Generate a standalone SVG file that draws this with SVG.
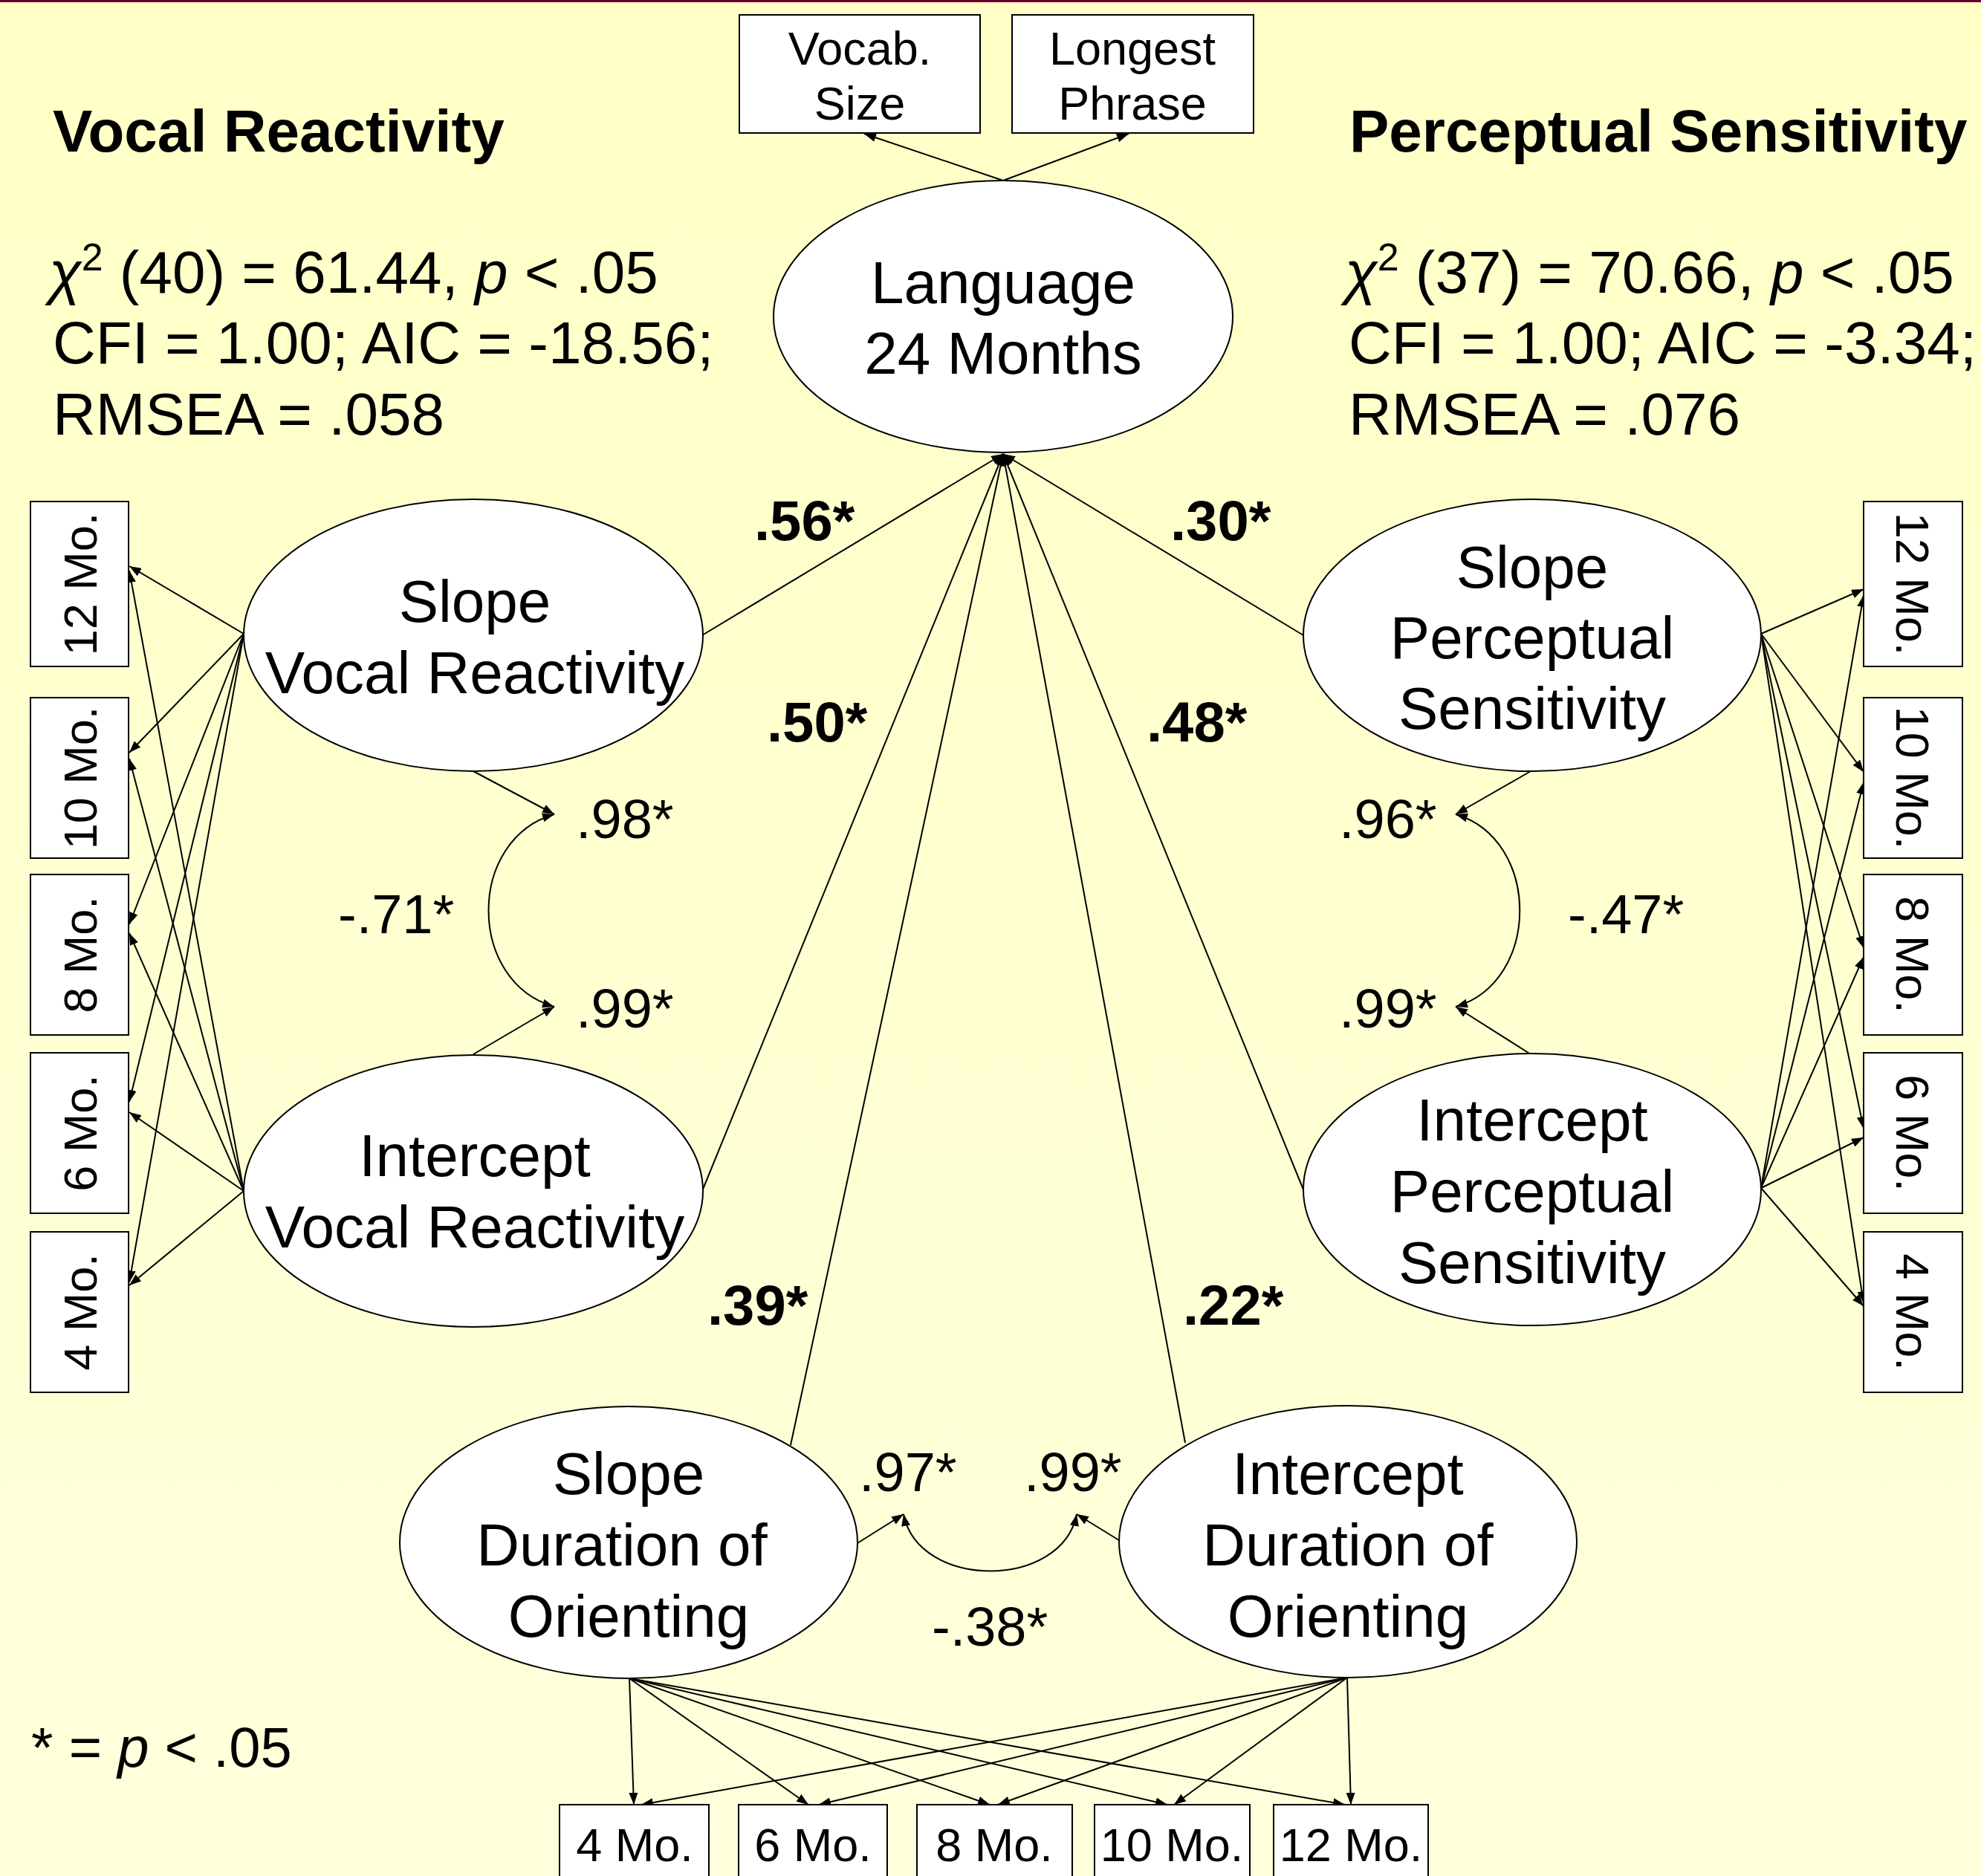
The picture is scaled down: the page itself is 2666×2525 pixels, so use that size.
<svg xmlns="http://www.w3.org/2000/svg" width="2666" height="2525" viewBox="0 0 2666 2525">
<defs>
<linearGradient id="bg" x1="0" y1="0" x2="0" y2="1">
<stop offset="0" stop-color="#FFFFC6"/>
<stop offset="1" stop-color="#FFFFDC"/>
</linearGradient>
<marker id="ah" markerWidth="16" markerHeight="12" refX="16" refY="6" orient="auto-start-reverse" markerUnits="userSpaceOnUse">
<path d="M0,0 L16,6 L0,12 z" fill="#000"/>
</marker>
<style>
text{font-family:"Liberation Sans",Arial,Helvetica,sans-serif;fill:#000}
.ell{fill:#fff;stroke:#000;stroke-width:2}
.box{fill:#fff;stroke:#000;stroke-width:2}
.lbl{font-size:80px;text-anchor:middle}
.big{font-size:80px}
.title{font-size:80px;font-weight:bold}
.coef{font-size:74px}
.foot{font-size:76px}
.bcoef{font-size:76px;font-weight:bold}
.obs{font-size:63px;text-anchor:middle}
.conn line,.conn path{stroke:#000;stroke-width:2;fill:none}
.arr{marker-end:url(#ah)}
.dbl{marker-start:url(#ah);marker-end:url(#ah)}
</style>
</defs>
<rect x="0" y="0" width="2666" height="2525" fill="url(#bg)"/>
<rect x="0" y="0" width="2666" height="3" fill="#660033"/>

<g id="connectors" class="conn">
<line class="arr" x1="1350" y1="243" x2="1163" y2="180"/>
<line class="arr" x1="1350" y1="243" x2="1519" y2="180"/>
<line class="arr" x1="945" y1="855" x2="1350" y2="611"/>
<line class="arr" x1="945" y1="1603" x2="1350" y2="611"/>
<line class="arr" x1="1064" y1="1945" x2="1350" y2="611"/>
<line class="arr" x1="1595" y1="1942" x2="1350" y2="611"/>
<line class="arr" x1="1754" y1="1601" x2="1350" y2="611"/>
<line class="arr" x1="1754" y1="855" x2="1350" y2="611"/>
<line class="arr" x1="328" y1="853" x2="174" y2="762"/>
<line class="arr" x1="328" y1="853" x2="174" y2="1013"/>
<line class="arr" x1="328" y1="853" x2="174" y2="1244"/>
<line class="arr" x1="328" y1="853" x2="174" y2="1483"/>
<line class="arr" x1="328" y1="853" x2="174" y2="1726"/>
<line class="arr" x1="328" y1="1603" x2="174" y2="768"/>
<line class="arr" x1="328" y1="1603" x2="174" y2="1021"/>
<line class="arr" x1="328" y1="1603" x2="174" y2="1256"/>
<line class="arr" x1="328" y1="1603" x2="174" y2="1497"/>
<line class="arr" x1="328" y1="1603" x2="174" y2="1730"/>
<line class="arr" x1="2370" y1="853" x2="2508" y2="793"/>
<line class="arr" x1="2370" y1="853" x2="2508" y2="1039"/>
<line class="arr" x1="2370" y1="853" x2="2508" y2="1276"/>
<line class="arr" x1="2370" y1="853" x2="2508" y2="1519"/>
<line class="arr" x1="2370" y1="853" x2="2508" y2="1754"/>
<line class="arr" x1="2370" y1="1599" x2="2508" y2="801"/>
<line class="arr" x1="2370" y1="1599" x2="2508" y2="1053"/>
<line class="arr" x1="2370" y1="1599" x2="2508" y2="1288"/>
<line class="arr" x1="2370" y1="1599" x2="2508" y2="1531"/>
<line class="arr" x1="2370" y1="1599" x2="2508" y2="1758"/>
<line class="arr" x1="847" y1="2259" x2="853" y2="2429"/>
<line class="arr" x1="847" y1="2259" x2="1088" y2="2429"/>
<line class="arr" x1="847" y1="2259" x2="1332" y2="2429"/>
<line class="arr" x1="847" y1="2259" x2="1571" y2="2429"/>
<line class="arr" x1="847" y1="2259" x2="1810" y2="2429"/>
<line class="arr" x1="1813" y1="2258" x2="863" y2="2429"/>
<line class="arr" x1="1813" y1="2258" x2="1102" y2="2429"/>
<line class="arr" x1="1813" y1="2258" x2="1343" y2="2429"/>
<line class="arr" x1="1813" y1="2258" x2="1580" y2="2429"/>
<line class="arr" x1="1813" y1="2258" x2="1818" y2="2429"/>
<line class="arr" x1="637" y1="1038" x2="746" y2="1096"/>
<line class="arr" x1="637" y1="1419" x2="746" y2="1355"/>
<path class="dbl" d="M746,1096 C628,1130 628,1321 746,1355"/>
<line class="arr" x1="2060" y1="1038" x2="1959" y2="1096"/>
<line class="arr" x1="2060" y1="1419" x2="1959" y2="1355"/>
<path class="dbl" d="M1959,1096 C2074,1130 2074,1321 1959,1355"/>
<line class="arr" x1="1154" y1="2077" x2="1216" y2="2038"/>
<line class="arr" x1="1509" y1="2075" x2="1449" y2="2038"/>
<path class="dbl" d="M1216,2038 C1236,2140 1429,2140 1449,2038"/>
</g>

<g id="vocab"><rect class="box" x="995" y="20" width="324" height="159"/><text class="obs" x="1157" y="87">Vocab.</text><text class="obs" x="1157" y="161">Size</text></g>
<g id="phrase"><rect class="box" x="1362" y="20" width="325" height="159"/><text class="obs" x="1524" y="87">Longest</text><text class="obs" x="1524" y="161">Phrase</text></g>

<g id="language"><ellipse class="ell" cx="1350" cy="426" rx="309" ry="183"/><text class="lbl" x="1350" y="408">Language</text><text class="lbl" x="1350" y="503">24 Months</text></g>
<g id="slope-vr"><ellipse class="ell" cx="637" cy="855" rx="309" ry="183"/><text class="lbl" x="639" y="837">Slope</text><text class="lbl" x="639" y="933">Vocal Reactivity</text></g>
<g id="intercept-vr"><ellipse class="ell" cx="637" cy="1603" rx="309" ry="183"/><text class="lbl" x="639" y="1583">Intercept</text><text class="lbl" x="639" y="1679">Vocal Reactivity</text></g>
<g id="slope-ps"><ellipse class="ell" cx="2062" cy="855" rx="308" ry="183"/><text class="lbl" x="2062" y="791">Slope</text><text class="lbl" x="2062" y="886">Perceptual</text><text class="lbl" x="2062" y="981">Sensitivity</text></g>
<g id="intercept-ps"><ellipse class="ell" cx="2062" cy="1601" rx="308" ry="183"/><text class="lbl" x="2062" y="1535">Intercept</text><text class="lbl" x="2062" y="1631">Perceptual</text><text class="lbl" x="2062" y="1727">Sensitivity</text></g>
<g id="slope-do"><ellipse class="ell" cx="846" cy="2076" rx="308" ry="183"/><text class="lbl" x="846" y="2011">Slope</text><text class="lbl" x="837" y="2107">Duration of</text><text class="lbl" x="846" y="2203">Orienting</text></g>
<g id="intercept-do"><ellipse class="ell" cx="1814" cy="2075" rx="308" ry="183"/><text class="lbl" x="1814" y="2011">Intercept</text><text class="lbl" x="1814" y="2107">Duration of</text><text class="lbl" x="1814" y="2203">Orienting</text></g>

<g id="vr-12"><rect class="box" x="41" y="675" width="132" height="222"/><text class="obs" transform="translate(130,786) rotate(-90)">12 Mo.</text></g>
<g id="vr-10"><rect class="box" x="41" y="939" width="132" height="216"/><text class="obs" transform="translate(130,1047) rotate(-90)">10 Mo.</text></g>
<g id="vr-8"><rect class="box" x="41" y="1177" width="132" height="216"/><text class="obs" transform="translate(130,1285) rotate(-90)">8 Mo.</text></g>
<g id="vr-6"><rect class="box" x="41" y="1417" width="132" height="216"/><text class="obs" transform="translate(130,1525) rotate(-90)">6 Mo.</text></g>
<g id="vr-4"><rect class="box" x="41" y="1658" width="132" height="216"/><text class="obs" transform="translate(130,1766) rotate(-90)">4 Mo.</text></g>

<g id="ps-12"><rect class="box" x="2508" y="675" width="133" height="222"/><text class="obs" transform="translate(2552,786) rotate(90)">12 Mo.</text></g>
<g id="ps-10"><rect class="box" x="2508" y="939" width="133" height="216"/><text class="obs" transform="translate(2552,1047) rotate(90)">10 Mo.</text></g>
<g id="ps-8"><rect class="box" x="2508" y="1177" width="133" height="216"/><text class="obs" transform="translate(2552,1285) rotate(90)">8 Mo.</text></g>
<g id="ps-6"><rect class="box" x="2508" y="1417" width="133" height="216"/><text class="obs" transform="translate(2552,1525) rotate(90)">6 Mo.</text></g>
<g id="ps-4"><rect class="box" x="2508" y="1658" width="133" height="216"/><text class="obs" transform="translate(2552,1766) rotate(90)">4 Mo.</text></g>

<g id="do-4"><rect class="box" x="753" y="2429" width="201" height="130"/><text class="obs" x="854" y="2505">4 Mo.</text></g>
<g id="do-6"><rect class="box" x="994" y="2429" width="200" height="130"/><text class="obs" x="1094" y="2505">6 Mo.</text></g>
<g id="do-8"><rect class="box" x="1234" y="2429" width="209" height="130"/><text class="obs" x="1338" y="2505">8 Mo.</text></g>
<g id="do-10"><rect class="box" x="1473" y="2429" width="209" height="130"/><text class="obs" x="1577" y="2505">10 Mo.</text></g>
<g id="do-12"><rect class="box" x="1714" y="2429" width="208" height="130"/><text class="obs" x="1818" y="2505">12 Mo.</text></g>

<g id="labels">
<text class="title" x="71" y="204">Vocal Reactivity</text>
<text class="title" x="1816" y="204">Perceptual Sensitivity</text>
<text class="big" x="66" y="394"><tspan font-style="italic">χ</tspan><tspan font-size="52" dy="-30">2</tspan><tspan dy="30"> (40) = 61.44, </tspan><tspan font-style="italic">p</tspan> &lt; .05</text>
<text class="big" x="71" y="489">CFI = 1.00; AIC = -18.56;</text>
<text class="big" x="71" y="585">RMSEA = .058</text>
<text class="big" x="1810" y="394"><tspan font-style="italic">χ</tspan><tspan font-size="52" dy="-30">2</tspan><tspan dy="30"> (37) = 70.66, </tspan><tspan font-style="italic">p</tspan> &lt; .05</text>
<text class="big" x="1815" y="489">CFI = 1.00; AIC = -3.34;</text>
<text class="big" x="1815" y="585">RMSEA = .076</text>
<text class="bcoef" x="1015" y="727">.56*</text>
<text class="bcoef" x="1575" y="727">.30*</text>
<text class="bcoef" x="1032" y="998">.50*</text>
<text class="bcoef" x="1543" y="998">.48*</text>
<text class="bcoef" x="952" y="1783">.39*</text>
<text class="bcoef" x="1592" y="1783">.22*</text>
<text class="coef" x="775" y="1128">.98*</text>
<text class="coef" x="455" y="1256">-.71*</text>
<text class="coef" x="775" y="1383">.99*</text>
<text class="coef" x="1802" y="1128">.96*</text>
<text class="coef" x="2110" y="1256">-.47*</text>
<text class="coef" x="1802" y="1383">.99*</text>
<text class="coef" x="1156" y="2007">.97*</text>
<text class="coef" x="1378" y="2007">.99*</text>
<text class="coef" x="1254" y="2215">-.38*</text>
<text class="foot" x="42" y="2378">* = <tspan font-style="italic">p</tspan> &lt; .05</text>
</g>
</svg>
